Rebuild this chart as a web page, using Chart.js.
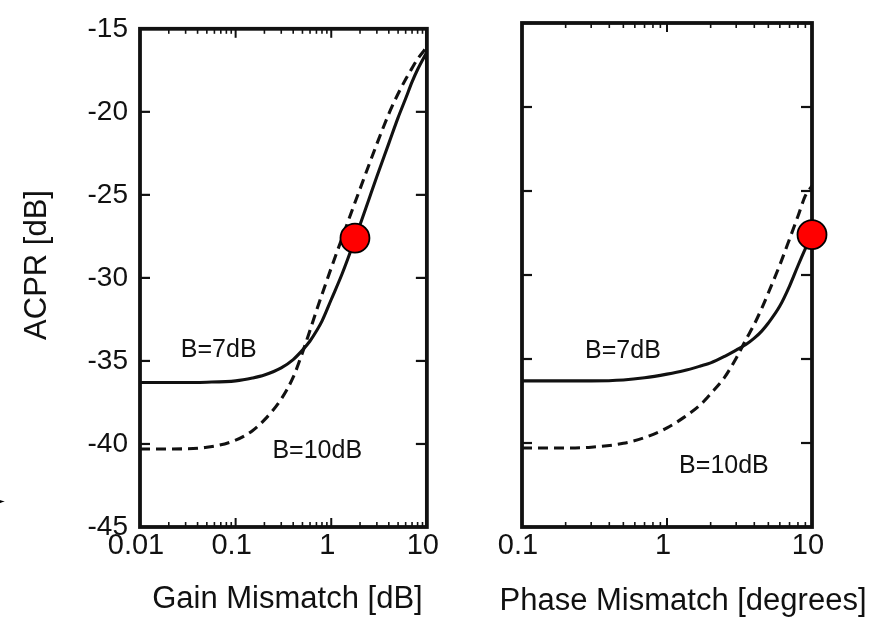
<!DOCTYPE html>
<html><head><meta charset="utf-8">
<script src="https://cdn.jsdelivr.net/npm/chart.js@4"></script>
<style>
html,body{margin:0;padding:0;background:#fff;}
#wrap{position:relative;width:890px;height:617px;overflow:hidden;background:#fff;}
.panel{position:absolute;top:0;width:445px;height:617px;}
#mark{position:absolute;left:-3px;top:495px;font:10px "DejaVu Sans";color:#000;line-height:12px;}
</style></head><body>
<div id="wrap">
<div class="panel" style="left:0"><canvas id="c1" width="445" height="617"></canvas></div>
<div class="panel" style="left:445px"><canvas id="c2" width="445" height="617"></canvas></div>
<div id="mark">►</div>
</div>
<script>
// ---- data ----
const gainMismatch = [0.01, 0.02, 0.05, 0.1, 0.15, 0.2, 0.3, 0.4, 0.5, 0.6, 0.7, 0.8, 1, 1.3, 1.7, 2, 2.5, 3, 4, 5, 6, 7, 8, 10];
const acprGainB7  = [-36.3, -36.3, -36.28, -36.2, -36.03, -35.85, -35.42, -34.92, -34.35, -33.8, -33.2, -32.6, -31.3, -29.75, -27.95, -26.8, -25.2, -23.9, -21.9, -20.35, -19.2, -18.2, -17.45, -16.4];
const acprGainB10 = [-40.3, -40.3, -40.2, -39.77, -39.2, -38.55, -37.3, -35.98, -34.5, -33.15, -31.98, -31.0, -29.4, -27.58, -25.74, -24.64, -23.14, -21.93, -20.12, -18.91, -18.04, -17.37, -16.82, -16.1];
const gainMarker = [{x: 1.77, y: -27.6}];

const phaseMismatch = [0.1, 0.2, 0.3, 0.5, 0.7, 1, 1.3, 1.7, 2, 2.5, 3, 3.5, 4, 4.5, 5, 6, 7, 8, 9, 10];
const acprPhaseB7  = [-36.3, -36.3, -36.3, -36.25, -36.12, -35.9, -35.7, -35.42, -35.23, -34.84, -34.47, -34.14, -33.76, -33.34, -32.86, -31.85, -30.66, -29.45, -28.43, -27.6];
const acprPhaseB10 = [-40.3, -40.3, -40.25, -40.02, -39.68, -39.1, -38.49, -37.72, -37.07, -36.08, -34.95, -33.85, -32.93, -31.99, -31.06, -29.4, -27.86, -26.5, -25.28, -24.7];
const phaseMarker = [{x: 10, y: -27.6}];

const yTicks = [-45, -40, -35, -30, -25, -20, -15];
const yTickLabels = ['-45', '-40', '-35', '-30', '-25', '-20', '-15'];
const gainTicks = [0.01, 0.1, 1, 10];
const gainTickLabels = ['0.01', '0.1', '1', '10'];
const phaseTicks = [0.1, 1, 10];
const phaseTickLabels = ['0.1', '1', '10'];
const minorMultipliers = [2, 3, 4, 5, 6, 7, 8, 9];

const gainNotes = [{text: 'B=7dB', x: 0.0665, y: -34.35}, {text: 'B=10dB', x: 0.714, y: -40.43}];
const phaseNotes = [{text: 'B=7dB', x: 0.497, y: -34.53}, {text: 'B=10dB', x: 2.47, y: -41.38}];

// ---- rendering ----
const FONT = '"Liberation Sans", Arial, Helvetica, sans-serif';
const INK = '#111';
Chart.defaults.font.family = FONT;
Chart.defaults.color = INK;

const framePlugin = {
  id: 'frame',
  beforeDatasetsDraw(chart, args, opts) {
    const {ctx, chartArea: a, scales: {x, y}} = chart;
    ctx.save();
    ctx.strokeStyle = INK;
    ctx.lineCap = 'butt';
    const seg = (x1, y1, x2, y2) => { ctx.beginPath(); ctx.moveTo(x1, y1); ctx.lineTo(x2, y2); ctx.stroke(); };
    ctx.lineWidth = 2.2;
    y.ticks.forEach(t => {
      const py = y.getPixelForValue(t.value);
      seg(a.left, py, a.left + 10, py);
      seg(a.right - 11, py, a.right, py);
    });
    const lo = Math.round(Math.log10(x.min)), hi = Math.round(Math.log10(x.max));
    ctx.lineWidth = 1.6;
    for (let k = lo; k <= hi; k++) {
      const base = Math.pow(10, k);
      const px = x.getPixelForValue(base);
      if (k > lo && k < hi) {
        ctx.lineWidth = 2;
        seg(px, a.top, px, a.top + 9);
        seg(px, a.bottom, px, a.bottom - 9);
        ctx.lineWidth = 1.6;
      }
      if (k < hi) {
        minorMultipliers.forEach(m => {
          const p = x.getPixelForValue(m * base);
          seg(p, a.top, p, a.top + 5);
          seg(p, a.bottom, p, a.bottom - 5);
        });
      }
    }
    ctx.lineWidth = 3.8;
    ctx.strokeRect(a.left, a.top, a.right - a.left, a.bottom - a.top);
    // curve labels
    ctx.fillStyle = INK;
    ctx.font = '25px ' + FONT;
    ctx.textAlign = 'center';
    ctx.textBaseline = 'middle';
    (opts.notes || []).forEach(n => {
      ctx.fillText(n.text, x.getPixelForValue(n.x), y.getPixelForValue(n.y));
    });
    // x-axis title (drawn here so it is not squeezed to the plot width)
    ctx.font = '31px ' + FONT;
    ctx.textBaseline = 'alphabetic';
    ctx.fillText(opts.xTitle, (a.left + a.right) / 2 + opts.xTitleShift, chart.height - opts.xTitleLift);
    ctx.restore();
  }
};

function makeChart(id, xs, b7, b10, marker, xTicks, xLabels, notes, cfg) {
  const pts = (arr) => arr.map((v, i) => ({x: xs[i], y: v}));
  return new Chart(document.getElementById(id), {
    type: 'line',
    data: {
      datasets: [
        {label: 'marker', data: marker, showLine: false, pointRadius: 14.5, pointBackgroundColor: '#ff0000',
         pointBorderColor: '#000', pointBorderWidth: 1.8, clip: false},
        {label: 'B=7dB', data: pts(b7), borderColor: INK, borderWidth: 3.1, pointRadius: 0,
         cubicInterpolationMode: 'monotone', fill: false},
        {label: 'B=10dB', data: pts(b10), borderColor: INK, borderWidth: 3.1, borderDash: [10, 6], pointRadius: 0,
         cubicInterpolationMode: 'monotone', fill: false}
      ]
    },
    options: {
      responsive: false, animation: false, devicePixelRatio: 1,
      layout: {padding: {left: 0, right: cfg.padRight, top: 23, bottom: 0}},
      plugins: {legend: {display: false}, tooltip: {enabled: false},
                frame: {notes: notes, xTitle: cfg.xTitle, xTitleShift: cfg.xTitleShift, xTitleLift: cfg.xTitleLift}},
      scales: {
        x: {
          type: 'logarithmic', min: xTicks[0], max: xTicks[xTicks.length - 1],
          grid: {display: false, drawTicks: false}, border: {display: false},
          afterBuildTicks: s => { s.ticks = xTicks.map(v => ({value: v})); },
          afterFit: s => { s.height = 90; },
          ticks: {autoSkip: false, maxRotation: 0, padding: 2, labelOffset: -4,
                  font: {size: 29}, color: INK, callback: (v, i) => xLabels[i]},
          title: {display: false}
        },
        y: {
          type: 'linear', min: -45, max: -15,
          grid: {display: false, drawTicks: false}, border: {display: false},
          afterBuildTicks: s => { s.ticks = yTicks.map(v => ({value: v})); },
          afterFit: s => { s.width = cfg.yWidth; },
          ticks: {display: cfg.yLabels, padding: 12, font: {size: 28}, color: INK,
                  callback: (v, i) => yTickLabels[i]},
          title: {display: cfg.yLabels, text: '   ACPR [dB]', font: {size: 31}, color: INK,
                  padding: {top: 19, bottom: 0}}
        }
      }
    },
    plugins: [framePlugin]
  });
}

makeChart('c1', gainMismatch, acprGainB7, acprGainB10, gainMarker, gainTicks, gainTickLabels, gainNotes,
  {padRight: 17, yWidth: 140, yLabels: true, xTitle: 'Gain Mismatch [dB]', xTitleShift: 4, xTitleLift: 9});
makeChart('c2', phaseMismatch, acprPhaseB7, acprPhaseB10, phaseMarker, phaseTicks, phaseTickLabels, phaseNotes,
  {padRight: 78, yWidth: 77, yLabels: false, xTitle: 'Phase Mismatch [degrees]', xTitleShift: 16, xTitleLift: 7});
</script>
</body></html>
